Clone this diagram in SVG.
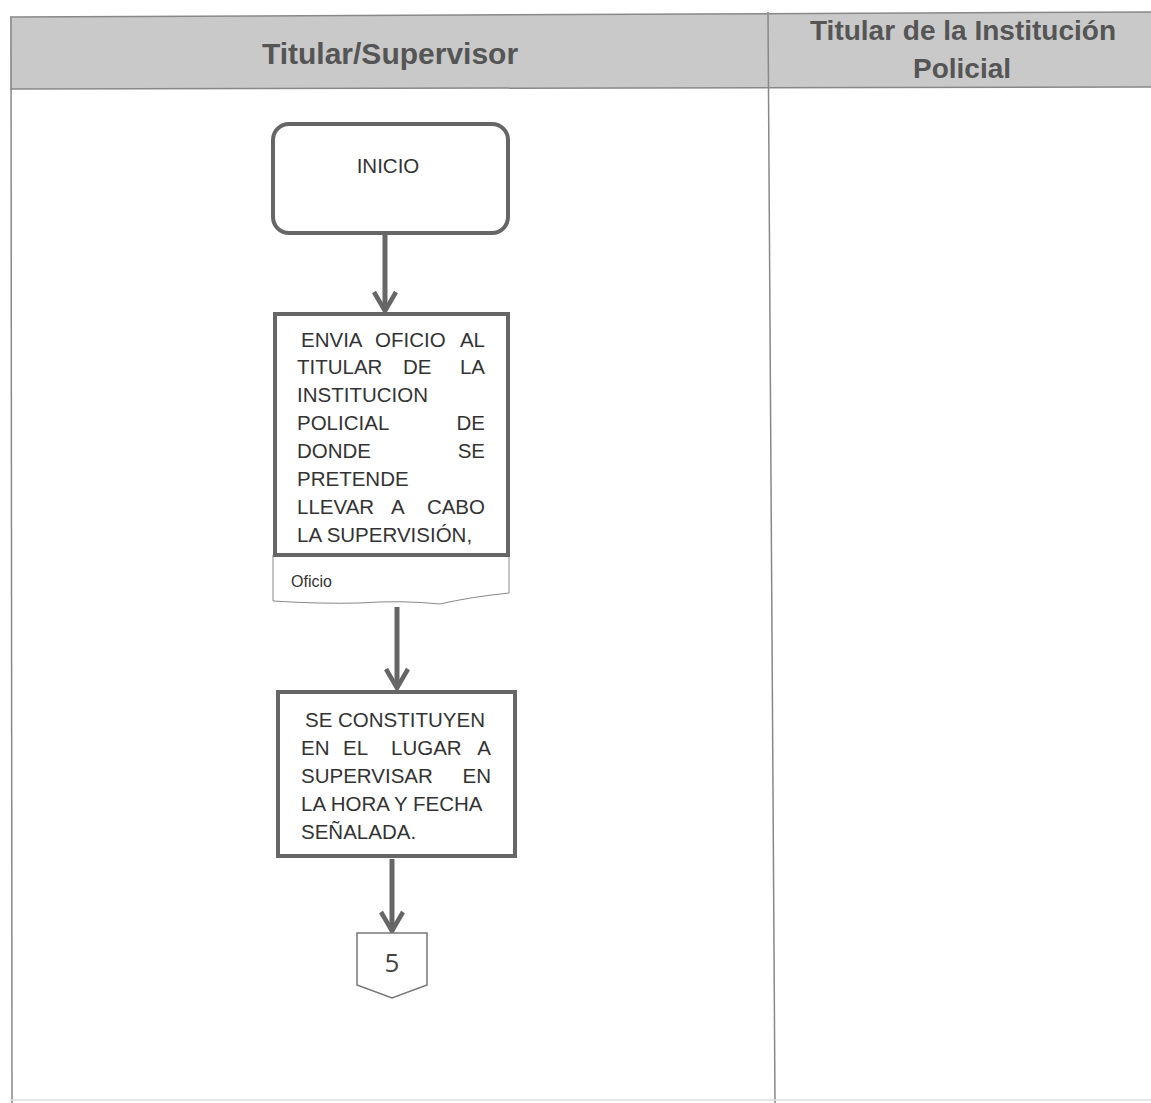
<svg xmlns="http://www.w3.org/2000/svg" width="1151" height="1103" viewBox="0 0 1151 1103">
<style>
.hdr{font-family:"Liberation Sans",Arial,sans-serif;font-weight:bold;fill:#555;text-anchor:middle}
.box{fill:#fff;stroke:#666;stroke-width:4}
.t{font-family:"Liberation Sans",Arial,sans-serif;font-size:20.5px;fill:#333}
.e{text-anchor:end}
.conn{stroke:#666;stroke-width:5;fill:none}
.grid{stroke:#888;stroke-width:1.5;fill:none}
</style>
<defs>
<marker id="chev" viewBox="0 0 24 26" refX="21" refY="13" markerWidth="24" markerHeight="26" markerUnits="userSpaceOnUse" orient="auto">
<path d="M2,2 L21,13 L2,24" fill="none" stroke="#666" stroke-width="4.5"/>
</marker>
</defs>
<rect width="1151" height="1103" fill="#fff"/>
<g id="lanes">
<polygon points="10,17 1151,12 1151,87 10,89" fill="#c9c9c9"/>
<line class="grid" x1="10" y1="17" x2="1151" y2="12"/>
<line class="grid" x1="10" y1="89" x2="1151" y2="87"/>
<line class="grid" x1="11" y1="17" x2="12" y2="1103"/>
<line class="grid" x1="768" y1="12" x2="775" y2="1103"/>
<line x1="10" y1="1100" x2="1151" y2="1100" stroke="#ddd" stroke-width="1.5"/>
<text class="hdr" x="390" y="64" font-size="30">Titular/Supervisor</text>
<text class="hdr" x="963" y="40" font-size="28">Titular de la Institución</text>
<text class="hdr" x="962" y="78" font-size="28">Policial</text>
</g>
<g id="connectors">
<line class="conn" x1="385" y1="235" x2="385" y2="311" marker-end="url(#chev)"/>
<line class="conn" x1="397" y1="607" x2="397" y2="688" marker-end="url(#chev)"/>
<line class="conn" x1="392" y1="859" x2="392" y2="931" marker-end="url(#chev)"/>
</g>
<g id="inicio">
<rect class="box" x="273" y="124" width="235" height="109" rx="16"/>
<text class="t" x="388" y="173" text-anchor="middle" font-size="19">INICIO</text>
</g>
<g id="envia">
<path d="M273,555 L509,555 L509,593 Q470,597 440,604 Q400,600 360,603 Q320,604 273,601 Z" fill="#fff" stroke="#888" stroke-width="1"/>
<rect class="box" x="275" y="314" width="233" height="241"/>
<g class="t">
<text x="301" y="347">ENVIA</text><text x="375" y="347">OFICIO</text><text class="e" x="485" y="347">AL</text>
<text x="297" y="374">TITULAR</text><text x="403" y="374">DE</text><text class="e" x="485" y="374">LA</text>
<text x="297" y="402">INSTITUCION</text>
<text x="297" y="430">POLICIAL</text><text class="e" x="485" y="430">DE</text>
<text x="297" y="458">DONDE</text><text class="e" x="485" y="458">SE</text>
<text x="297" y="486">PRETENDE</text>
<text x="297" y="514">LLEVAR</text><text x="391" y="514">A</text><text class="e" x="485" y="514">CABO</text>
<text x="297" y="542">LA SUPERVISIÓN,</text>
</g>
<text x="291" y="587" style="font-family:'Liberation Sans',Arial,sans-serif;font-size:16px;fill:#333">Oficio</text>
</g>
<g id="constituyen">
<rect class="box" x="278" y="692" width="237" height="164"/>
<g class="t">
<text x="305" y="727">SE CONSTITUYEN</text>
<text x="301" y="755">EN</text><text x="343" y="755">EL</text><text x="391" y="755">LUGAR</text><text class="e" x="491" y="755">A</text>
<text x="301" y="783">SUPERVISAR</text><text class="e" x="491" y="783">EN</text>
<text x="301" y="811">LA HORA Y FECHA</text>
<text x="301" y="839">SEÑALADA.</text>
</g>
</g>
<g id="conector5">
<path d="M357,933 L427,933 L427,985 L392,998 L357,985 Z" fill="#fff" stroke="#777" stroke-width="1.5"/>
<text x="392" y="972" text-anchor="middle" style="font-family:'Open Sans',sans-serif;font-size:26px;fill:#444">5</text>
</g>
</svg>
